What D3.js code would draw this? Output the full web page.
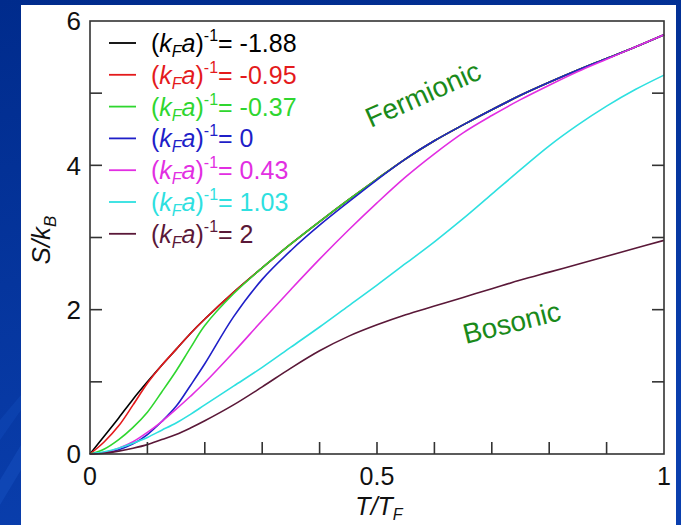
<!DOCTYPE html>
<html>
<head>
<meta charset="utf-8">
<script src="https://cdn.jsdelivr.net/npm/d3@7"></script>
<style>
  html, body { margin: 0; padding: 0; background: #0a2f94; }
  svg { display: block; }
  text { font-family: "Liberation Sans", Arial, Helvetica, sans-serif; }
</style>
</head>
<body>
<svg id="chart" width="681" height="525"></svg>
<script>
// reduced temperature grid T/T_F
var temps = [0, 0.025, 0.05, 0.075, 0.1, 0.125, 0.15, 0.175, 0.2, 0.25, 0.3, 0.35, 0.4, 0.45, 0.5,
             0.55, 0.6, 0.65, 0.7, 0.75, 0.8, 0.85, 0.9, 0.95, 1];

// entropy S/k_B for each coupling (kFa)^-1
var sBlack   = [0, 0.25, 0.5, 0.76, 1.0, 1.23, 1.45, 1.67, 1.87, 2.24, 2.58, 2.91, 3.22, 3.52, 3.81, 4.09, 4.34, 4.56, 4.77, 4.97, 5.15, 5.32, 5.48, 5.64, 5.81];
var sRed     = [0, 0.17, 0.39, 0.68, 0.98, 1.23, 1.45, 1.67, 1.87, 2.24, 2.58, 2.91, 3.22, 3.52, 3.81, 4.09, 4.34, 4.56, 4.77, 4.97, 5.15, 5.32, 5.48, 5.64, 5.81];
var sGreen   = [0, 0.07, 0.2, 0.37, 0.58, 0.86, 1.15, 1.47, 1.78, 2.22, 2.58, 2.91, 3.22, 3.52, 3.81, 4.09, 4.34, 4.56, 4.77, 4.97, 5.15, 5.32, 5.48, 5.64, 5.81];
var sBlue    = [0, 0.02, 0.06, 0.14, 0.27, 0.45, 0.66, 0.95, 1.25, 1.9, 2.42, 2.82, 3.17, 3.49, 3.8, 4.09, 4.34, 4.56, 4.77, 4.97, 5.15, 5.32, 5.48, 5.64, 5.81];
var sMagenta = [0, 0.02, 0.08, 0.17, 0.3, 0.45, 0.62, 0.8, 0.99, 1.41, 1.85, 2.28, 2.7, 3.1, 3.48, 3.84, 4.16, 4.45, 4.69, 4.91, 5.11, 5.3, 5.47, 5.64, 5.81];
var sCyan    = [0, 0.03, 0.08, 0.15, 0.23, 0.33, 0.43, 0.55, 0.68, 0.94, 1.2, 1.48, 1.76, 2.05, 2.34, 2.64, 2.94, 3.26, 3.6, 3.94, 4.27, 4.56, 4.82, 5.05, 5.25];
var sBrown   = [0, 0.01, 0.04, 0.08, 0.13, 0.2, 0.27, 0.36, 0.46, 0.68, 0.93, 1.19, 1.43, 1.63, 1.79, 1.93, 2.05, 2.17, 2.29, 2.41, 2.52, 2.63, 2.74, 2.85, 2.96];

var couplings = ["-1.88", "-0.95", "-0.37", "0", "0.43", "1.03", "2"];
var seriesValues = [sBlack, sRed, sGreen, sBlue, sMagenta, sCyan, sBrown];
var colors = ["#000000", "#e41a1c", "#2fd62f", "#1f1fc8", "#e22ee2", "#2ee0e0", "#5a1838"];

var xTickLabels = ["0", "0.5", "1"];
var yTickLabels = ["0", "2", "4", "6"];

var svg = d3.select("#chart");

// slide background
var defs = svg.append("defs");
var grad = defs.append("linearGradient").attr("id", "bg")
    .attr("x1", "0").attr("y1", "0").attr("x2", "0.3").attr("y2", "1");
grad.append("stop").attr("offset", "0").attr("stop-color", "#002b8c");
grad.append("stop").attr("offset", "1").attr("stop-color", "#0a3fae");
svg.append("rect").attr("width", 681).attr("height", 525).attr("fill", "url(#bg)");
svg.append("path").attr("d", "M0,480 L21,445 L21,470 L0,505 Z").attr("fill", "#1550c0").attr("opacity", 0.5);
svg.append("path").attr("d", "M0,420 L21,395 L21,410 L0,440 Z").attr("fill", "#1550c0").attr("opacity", 0.35);

// white panel
svg.append("rect").attr("x", 21).attr("y", 5).attr("width", 655).attr("height", 520).attr("fill", "#ffffff");

var margin = { left: 90, top: 21, right: 664, bottom: 454 };
var x = d3.scaleLinear().domain([0, 1]).range([margin.left, margin.right]);
var y = d3.scaleLinear().domain([0, 6]).range([margin.bottom, margin.top]);

var line = d3.line()
    .x(function(d) { return x(d.t); })
    .y(function(d) { return y(d.s); })
    .curve(d3.curveCatmullRom.alpha(0.5));

// curves
seriesValues.forEach(function(vals, i) {
    var pts = temps.map(function(t, j) { return { t: t, s: vals[j] }; });
    svg.append("path")
        .datum(pts)
        .attr("d", line)
        .attr("fill", "none")
        .attr("stroke", colors[i])
        .attr("stroke-width", 1.6);
});

// frame
svg.append("rect")
    .attr("x", margin.left).attr("y", margin.top)
    .attr("width", margin.right - margin.left).attr("height", margin.bottom - margin.top)
    .attr("fill", "none").attr("stroke", "#333").attr("stroke-width", 1.6);

var tickLen = 12;
var axisColor = "#333";

// bottom ticks (inward)
d3.range(1, 10).forEach(function(k) {
    var v = k / 10;
    svg.append("line")
        .attr("x1", x(v)).attr("x2", x(v))
        .attr("y1", y(0)).attr("y2", y(0) - tickLen)
        .attr("stroke", axisColor).attr("stroke-width", 1.6);
});

// left and right ticks (inward)
d3.range(1, 6).forEach(function(v) {
    svg.append("line")
        .attr("x1", x(0)).attr("x2", x(0) + tickLen)
        .attr("y1", y(v)).attr("y2", y(v))
        .attr("stroke", axisColor).attr("stroke-width", 1.6);
    svg.append("line")
        .attr("x1", x(1)).attr("x2", x(1) - tickLen)
        .attr("y1", y(v)).attr("y2", y(v))
        .attr("stroke", axisColor).attr("stroke-width", 1.6);
});

// tick labels
xTickLabels.forEach(function(lbl) {
    svg.append("text")
        .attr("x", x(+lbl)).attr("y", 485)
        .attr("text-anchor", "middle")
        .attr("font-size", 25).attr("fill", "#111")
        .text(lbl);
});
yTickLabels.forEach(function(lbl) {
    svg.append("text")
        .attr("x", 81).attr("y", y(+lbl))
        .attr("dy", "0.36em")
        .attr("text-anchor", "end")
        .attr("font-size", 26).attr("fill", "#111")
        .text(lbl);
});

// axis titles
var xt = svg.append("text")
    .attr("x", 379).attr("y", 515)
    .attr("text-anchor", "middle")
    .attr("font-size", 25).attr("fill", "#111");
xt.append("tspan").attr("font-style", "italic").text("T/T");
xt.append("tspan").attr("font-style", "italic").attr("font-size", 16).attr("dy", 5).text("F");

var yt = svg.append("text")
    .attr("transform", "translate(50,240) rotate(-90)")
    .attr("text-anchor", "middle")
    .attr("font-size", 26).attr("fill", "#111");
yt.append("tspan").attr("font-style", "italic").text("S/k");
yt.append("tspan").attr("font-style", "italic").attr("font-size", 17).attr("dy", 6).text("B");

// legend
var legendTop = 43, legendStep = 31.8;
couplings.forEach(function(c, i) {
    var ly = legendTop + i * legendStep;
    svg.append("line")
        .attr("x1", 109).attr("x2", 136)
        .attr("y1", ly).attr("y2", ly)
        .attr("stroke", colors[i]).attr("stroke-width", 1.8);
    var t = svg.append("text")
        .attr("x", 151).attr("y", ly + 9)
        .attr("font-size", 25).attr("fill", colors[i]);
    t.append("tspan").text("(");
    t.append("tspan").attr("font-style", "italic").text("k");
    t.append("tspan").attr("font-style", "italic").attr("font-size", 16).attr("dy", 5).text("F");
    t.append("tspan").attr("font-style", "italic").attr("dy", -5).text("a");
    t.append("tspan").text(")");
    t.append("tspan").attr("font-size", 16).attr("dy", -11).text("-1");
    t.append("tspan").attr("dy", 11).text("= " + c);
});

// regime annotations
svg.append("text")
    .attr("transform", "translate(427,103) rotate(-24)")
    .attr("text-anchor", "middle")
    .attr("font-size", 28).attr("fill", "#1a8a1a")
    .text("Fermionic");
svg.append("text")
    .attr("transform", "translate(514,332) rotate(-14)")
    .attr("text-anchor", "middle")
    .attr("font-size", 28).attr("fill", "#1a8a1a")
    .text("Bosonic");
</script>
</body>
</html>
